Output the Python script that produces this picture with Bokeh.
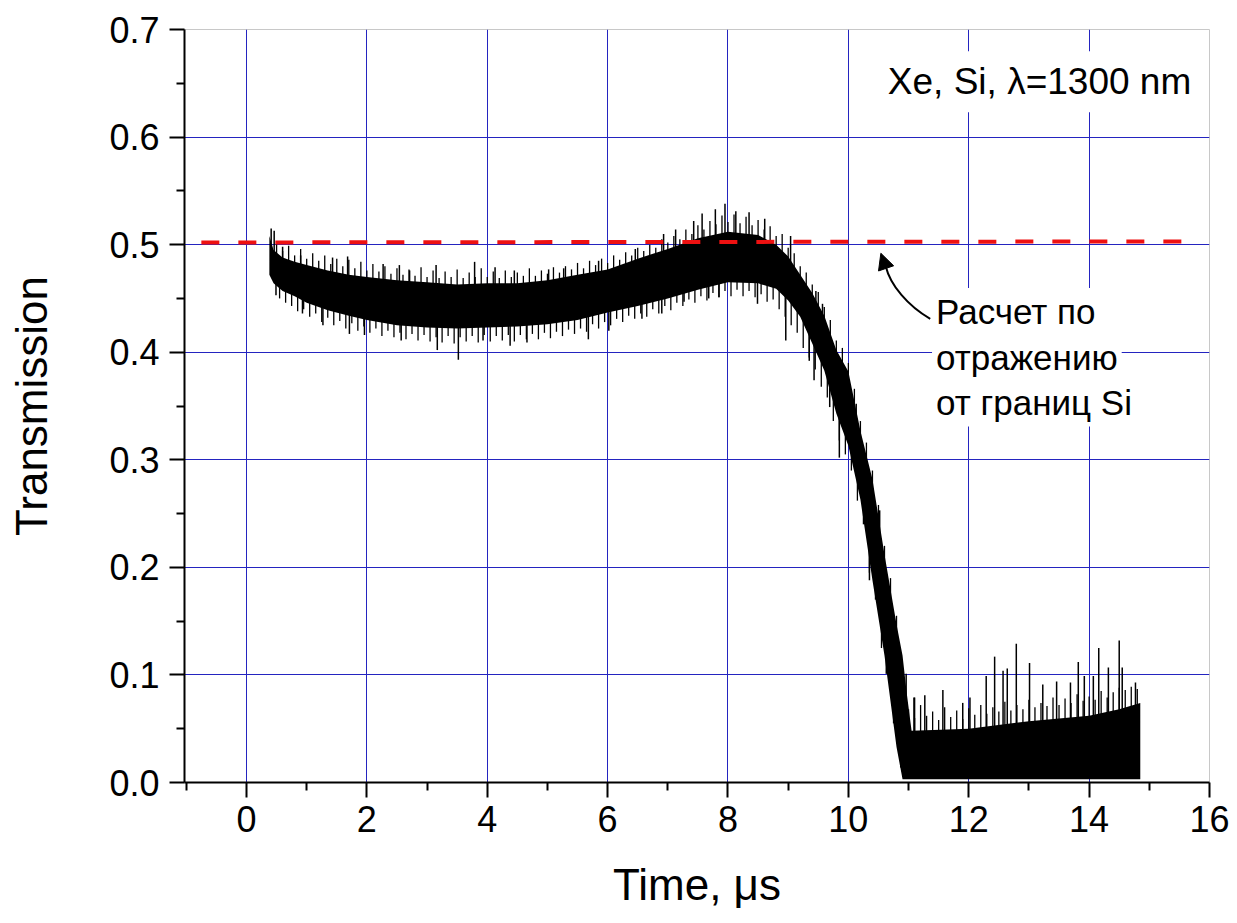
import numpy as np
from bokeh.plotting import figure
from bokeh.models import (Range1d, FixedTicker, PrintfTickFormatter, Label,
                          Arrow, NormalHead)
from bokeh.embed import file_html
from bokeh.resources import INLINE

# ---------------- data ----------------
# dense core of the noisy transmission trace (time in us)
env_x  = [0.38, 0.45, 0.60, 0.80, 1.00, 1.35, 1.70, 2.00, 2.50, 3.00, 3.50, 4.00,
          4.50, 5.00, 5.50, 6.00, 6.50, 7.00, 7.50, 8.00, 8.50, 8.80, 9.00, 9.20,
          9.40, 9.60, 9.80, 10.00, 10.20, 10.40, 10.60, 10.80, 10.90, 10.97, 11.05,
          12.00, 13.00, 14.00, 14.50, 14.85]
env_hi = [0.508, 0.495, 0.488, 0.484, 0.481, 0.476, 0.472, 0.470, 0.467, 0.465, 0.463, 0.464,
          0.464, 0.467, 0.472, 0.477, 0.487, 0.496, 0.506, 0.512, 0.509, 0.500, 0.489, 0.472,
          0.455, 0.434, 0.402, 0.382, 0.327, 0.282, 0.212, 0.147, 0.118, 0.083, 0.048,
          0.050, 0.057, 0.062, 0.068, 0.074]
env_lo = [0.472, 0.464, 0.457, 0.452, 0.446, 0.439, 0.434, 0.430, 0.425, 0.423, 0.422, 0.423,
          0.424, 0.426, 0.430, 0.437, 0.443, 0.450, 0.458, 0.465, 0.464, 0.459, 0.448, 0.433,
          0.408, 0.383, 0.343, 0.313, 0.263, 0.188, 0.118, 0.033, 0.003, 0.003, 0.003,
          0.003, 0.003, 0.003, 0.003, 0.003]

# upward noise fringe, every 0.1 us from 0.5 us
fringe_up = [0.503, 0.494, 0.499, 0.490, 0.496, 0.487, 0.492, 0.485, 0.490, 0.482, 0.487, 0.480,
             0.486, 0.478, 0.484, 0.476, 0.482, 0.475, 0.480, 0.473, 0.478, 0.472, 0.477, 0.471,
             0.479, 0.470, 0.476, 0.469, 0.475, 0.470, 0.477, 0.469, 0.474, 0.470, 0.478, 0.470,
             0.475, 0.469, 0.476, 0.470, 0.474, 0.471, 0.478, 0.471, 0.476, 0.473, 0.479, 0.474,
             0.480, 0.477, 0.483, 0.478, 0.485, 0.481, 0.487, 0.483, 0.490, 0.486, 0.493, 0.490,
             0.497, 0.494, 0.500, 0.497, 0.505, 0.502, 0.508, 0.505, 0.514, 0.510, 0.518, 0.514,
             0.522, 0.519, 0.527, 0.521, 0.528, 0.520, 0.526, 0.518, 0.523, 0.514, 0.517, 0.508,
             0.510, 0.497, 0.492, 0.480, 0.474, 0.463, 0.456, 0.442, 0.430, 0.411, 0.404, 0.390,
             0.366, 0.336, 0.316, 0.290, 0.258, 0.220, 0.190, 0.155]
# downward noise fringe, every 0.1 us from 0.55 us
fringe_dn = [0.450, 0.446, 0.443, 0.438, 0.440, 0.433, 0.436, 0.428, 0.432, 0.425, 0.429, 0.422,
             0.427, 0.420, 0.424, 0.418, 0.422, 0.415, 0.420, 0.414, 0.418, 0.412, 0.417, 0.411,
             0.416, 0.410, 0.414, 0.409, 0.415, 0.408, 0.414, 0.410, 0.415, 0.409, 0.416, 0.410,
             0.415, 0.411, 0.416, 0.410, 0.416, 0.412, 0.417, 0.412, 0.418, 0.413, 0.419, 0.415,
             0.421, 0.417, 0.422, 0.419, 0.426, 0.422, 0.428, 0.425, 0.431, 0.428, 0.434, 0.431,
             0.436, 0.433, 0.440, 0.436, 0.443, 0.439, 0.446, 0.443, 0.449, 0.446, 0.452, 0.448,
             0.455, 0.451, 0.457, 0.452, 0.458, 0.452, 0.457, 0.451, 0.454, 0.447, 0.449, 0.440,
             0.433, 0.425, 0.418, 0.404, 0.395, 0.384, 0.368, 0.358, 0.336, 0.318, 0.305, 0.290,
             0.262, 0.240, 0.195, 0.170, 0.125, 0.102, 0.055]
# noise fringe on the floor, every 0.1 us from 11.0 us
fringe_floor = [0.068, 0.060, 0.072, 0.062, 0.066, 0.058, 0.070, 0.061, 0.067, 0.059, 0.069,
                0.063, 0.072, 0.064, 0.070, 0.066, 0.075, 0.067, 0.072, 0.068, 0.077, 0.070,
                0.074, 0.071, 0.079, 0.072, 0.078, 0.074, 0.082, 0.076, 0.080, 0.077, 0.085,
                0.079, 0.084, 0.088, 0.086, 0.089, 0.087]

# individual tall noise spikes (time, tip value)
spike_x = [0.41, 0.46, 0.60, 0.90, 1.43, 1.68, 2.27, 2.54, 2.71, 3.15, 3.79, 4.13,
           4.45, 5.02, 5.27, 5.85, 6.46, 6.93, 7.13, 7.43, 7.57, 7.79, 7.95, 8.13, 8.35,
           8.61, 9.04, 9.46, 9.57, 9.85, 10.13, 10.52, 10.74, 10.96, 11.10,
           0.49, 0.93, 1.27, 1.71, 1.96, 2.57, 3.17, 3.52, 3.93, 4.38, 4.66, 5.68, 6.02,
           6.57, 6.90, 7.27, 7.68, 7.85, 8.49, 8.96, 9.35, 9.43, 9.69, 9.85,
           10.35, 10.63, 10.87,
           11.09, 11.27, 11.57, 11.90, 12.02, 12.29, 12.43, 12.57, 12.64, 12.79, 13.01,
           13.23, 13.46, 13.69, 13.82, 13.92, 14.07, 14.16, 14.32, 14.50, 14.55, 14.77]
spike_y = [0.515, 0.513, 0.498, 0.490, 0.488, 0.489, 0.482, 0.481, 0.476, 0.481, 0.484, 0.479,
           0.476, 0.477, 0.478, 0.485, 0.496, 0.510, 0.514, 0.522, 0.529, 0.533, 0.538, 0.531, 0.530,
           0.524, 0.508, 0.457, 0.445, 0.395, 0.352, 0.253, 0.160, 0.101, 0.079,
           0.453, 0.436, 0.425, 0.417, 0.416, 0.411, 0.402, 0.393, 0.411, 0.406, 0.409, 0.412, 0.420,
           0.431, 0.436, 0.447, 0.450, 0.451, 0.445, 0.411, 0.392, 0.374, 0.349, 0.302,
           0.188, 0.101, 0.014,
           0.079, 0.081, 0.086, 0.074, 0.079, 0.099, 0.117, 0.104, 0.106, 0.129, 0.111,
           0.091, 0.094, 0.093, 0.112, 0.099, 0.099, 0.125, 0.107, 0.132, 0.107, 0.093]

# calculated level from reflection at the Si boundaries
calc_x = [-0.75, 15.70]
calc_y = [0.502, 0.503]

x_ticks = [0, 2, 4, 6, 8, 10, 12, 14, 16]
x_minor = [-1, 1, 3, 5, 7, 9, 11, 13, 15]
y_ticks = [0.0, 0.1, 0.2, 0.3, 0.4, 0.5, 0.6, 0.7]
y_minor = [0.05, 0.15, 0.25, 0.35, 0.45, 0.55, 0.65]

FONT = "Liberation Sans"

p = figure(width=1229, height=915, output_backend="svg", toolbar_location=None,
           x_range=Range1d(-1.03, 16.0), y_range=Range1d(0.0, 0.7),
           min_border_left=184, min_border_right=20, min_border_top=29,
           min_border_bottom=133)
p.background_fill_color = "white"
p.border_fill_color = "white"
p.outline_line_color = "#c8c8c8"
p.outline_line_width = 1

# grid
for g in (p.xgrid, p.ygrid):
    g.grid_line_color = "#2424c0"
    g.grid_line_width = 1
p.xgrid.ticker = FixedTicker(ticks=x_ticks)
p.ygrid.ticker = FixedTicker(ticks=y_ticks)

# axes
p.xaxis.ticker = FixedTicker(ticks=x_ticks, minor_ticks=x_minor)
p.yaxis.ticker = FixedTicker(ticks=y_ticks, minor_ticks=y_minor)
p.yaxis.formatter = PrintfTickFormatter(format="%.1f")
for ax in (p.xaxis[0], p.yaxis[0]):
    ax.axis_line_color = "black"
    ax.axis_line_width = 2
    ax.major_tick_line_color = "black"
    ax.major_tick_line_width = 2
    ax.minor_tick_line_color = "black"
    ax.minor_tick_line_width = 2
    ax.major_tick_in = 0
    ax.major_tick_out = 15
    ax.minor_tick_in = 0
    ax.minor_tick_out = 8
    ax.major_label_text_font = FONT
    ax.major_label_text_font_size = "36px"
    ax.major_label_text_color = "black"
    ax.axis_label_text_font = FONT
    ax.axis_label_text_font_style = "normal"
    ax.axis_label_text_font_size = "44px"
    ax.axis_label_text_color = "black"
p.xaxis.axis_label = "Time, μs"
p.yaxis.axis_label = "Transmission"
p.xaxis.major_label_standoff = 8
p.yaxis.major_label_standoff = 10
p.xaxis.axis_label_standoff = 25
p.yaxis.axis_label_standoff = 50

# trace: dense core band, noise fringe and tall spikes
p.varea(x=env_x, y1=env_lo, y2=env_hi, fill_color="black")
mid = (np.array(env_hi) + np.array(env_lo)) / 2.0

up_x = np.round(0.5 + 0.1 * np.arange(len(fringe_up)), 2)
dn_x = np.round(0.55 + 0.1 * np.arange(len(fringe_dn)), 2)
fl_x = np.round(11.0 + 0.1 * np.arange(len(fringe_floor)), 2)
for fx, fy in ((up_x, fringe_up), (dn_x, fringe_dn), (fl_x, fringe_floor)):
    p.segment(x0=fx, y0=np.interp(fx, env_x, mid), x1=fx, y1=fy,
              line_color="black", line_width=1.3)
p.segment(x0=spike_x, y0=np.interp(spike_x, env_x, mid), x1=spike_x, y1=spike_y,
          line_color="black", line_width=1.5)

# red dashed calculated level
p.line(calc_x, calc_y, line_color="#ee1111", line_width=4, line_dash="18 19")

# annotation texts
p.add_layout(Label(x=10.49, y=0.623, text="Xe, Si, λ=1300 nm", text_font=FONT,
                   text_font_size="37px", text_color="black",
                   background_fill_color="white", padding=10))
for txt, yy in (("Расчет по", 0.416), ("отражению", 0.373), ("от границ Si", 0.331)):
    p.add_layout(Label(x=11.39, y=yy, text=txt, text_font=FONT, text_font_size="35px",
                       text_color="black", background_fill_color="white", padding=4))

# curved arrow to the dashed line
p.bezier(x0=[11.36], y0=[0.431], x1=[10.62], y1=[0.480],
         cx0=[10.99], cy0=[0.443], cx1=[10.70], cy1=[0.462],
         line_color="black", line_width=2)
p.add_layout(Arrow(end=NormalHead(size=16, fill_color="black", line_color="black"),
                   x_start=10.62, y_start=0.479, x_end=10.54, y_end=0.492,
                   line_color="black", line_width=2))

open("out.html", "w").write(file_html(p, INLINE))
